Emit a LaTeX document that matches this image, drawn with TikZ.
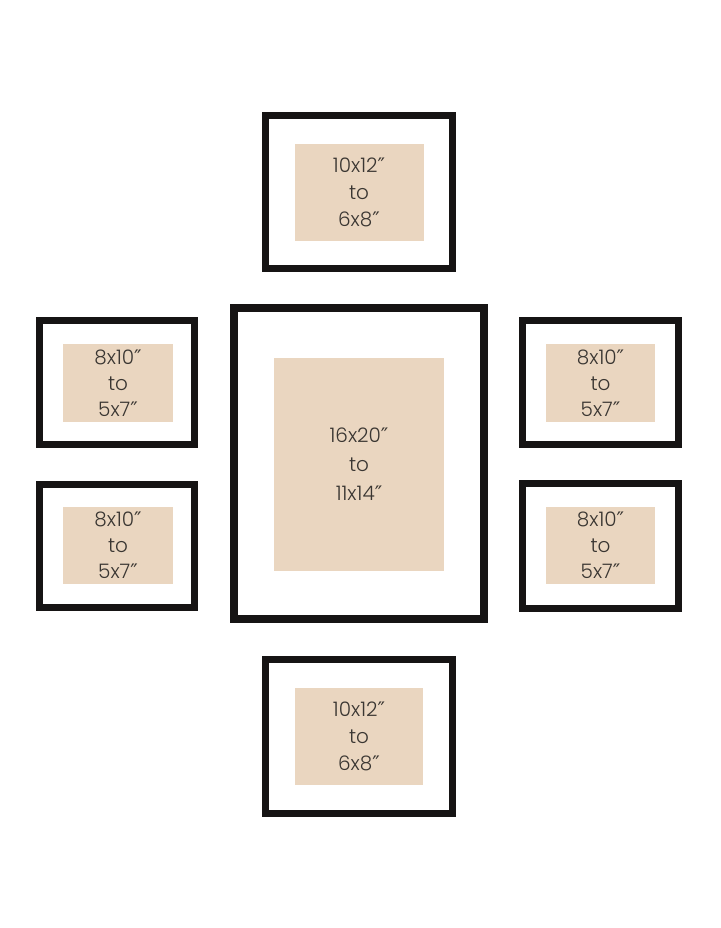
\documentclass[tikz,border=0pt]{standalone}
\usepackage{fontspec}
\setmainfont{Poppins}[UprightFont={* Light}]
\newfontfamily\dvfont{DejaVu Sans}
\definecolor{framec}{RGB}{22,20,20}
\definecolor{matc}{RGB}{234,214,192}
\definecolor{txtc}{RGB}{58,54,50}
\newcommand{\inch}{{\dvfont ″}}
\begin{document}
\begin{tikzpicture}[x=1pt,y=-1pt,
  frame/.style={draw=framec,line width=7pt,fill=white,inner sep=0pt},
  mat/.style={fill=matc,inner sep=0pt},
  lbl/.style={text=txtc,align=center,font=\fontsize{20}{27}\selectfont,inner sep=0pt}]
\useasboundingbox (0,0) rectangle (720,928);
% top
\node[frame,minimum width=187pt,minimum height=153pt] (ft) at (359,192) {};
\node[mat,minimum width=129pt,minimum height=97pt] (mt) at (359,192.5) {};
\node[lbl] (tt) at (mt) {10x12\inch\\to\\6x8\inch};
% left top
\node[frame,minimum width=155pt,minimum height=124pt] (flt) at (117,382.5) {};
\node[mat,minimum width=110pt,minimum height=78pt] (mlt) at (118,383) {};
\node[lbl,font=\fontsize{20}{26}\selectfont] (tlt) at (mlt) {8x10\inch\\to\\5x7\inch};
% left bottom
\node[frame,minimum width=155pt,minimum height=123pt] (flb) at (117,546) {};
\node[mat,minimum width=110pt,minimum height=77pt] (mlb) at (118,545.5) {};
\node[lbl,font=\fontsize{20}{26}\selectfont] (tlb) at (mlb) {8x10\inch\\to\\5x7\inch};
% center
\node[frame,line width=8pt,minimum width=250pt,minimum height=311pt] (fc) at (359,463.5) {};
\node[mat,minimum width=170pt,minimum height=213pt] (mc) at (359,464.5) {};
\node[lbl,font=\fontsize{20}{29}\selectfont] (tc) at (mc) {16x20\inch\\to\\11x14\inch};
% right top
\node[frame,minimum width=156pt,minimum height=124pt] (frt) at (600.5,382.5) {};
\node[mat,minimum width=109pt,minimum height=78pt] (mrt) at (600.5,383) {};
\node[lbl,font=\fontsize{20}{26}\selectfont] (trt) at (mrt) {8x10\inch\\to\\5x7\inch};
% right bottom
\node[frame,minimum width=156pt,minimum height=125pt] (frb) at (600.5,546) {};
\node[mat,minimum width=109pt,minimum height=77pt] (mrb) at (600.5,545.5) {};
\node[lbl,font=\fontsize{20}{26}\selectfont] (trb) at (mrb) {8x10\inch\\to\\5x7\inch};
% bottom
\node[frame,minimum width=187pt,minimum height=154pt] (fb) at (359,736.5) {};
\node[mat,minimum width=128pt,minimum height=97pt] (mb) at (359,736.5) {};
\node[lbl] (tb) at (mb) {10x12\inch\\to\\6x8\inch};
\end{tikzpicture}
\end{document}
